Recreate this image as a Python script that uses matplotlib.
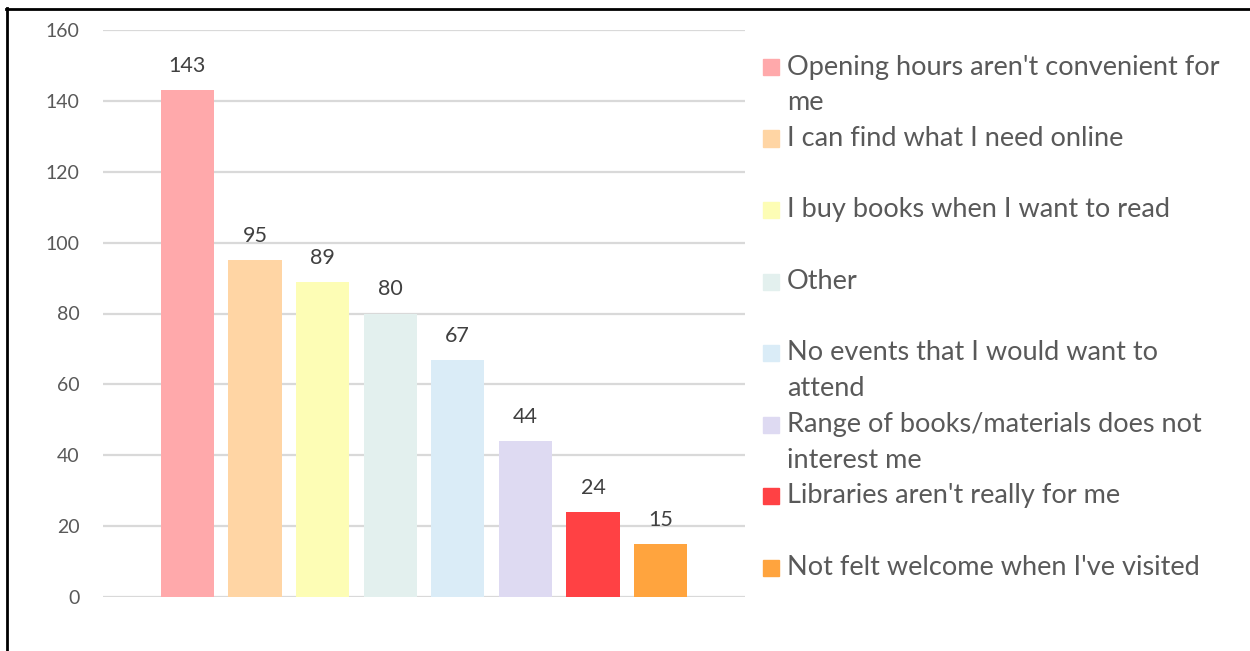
import textwrap
import matplotlib
matplotlib.use('Agg')
import matplotlib.pyplot as plt
from matplotlib.patches import Rectangle
from matplotlib.lines import Line2D

# reasons people gave for not using the library
reasons = ["Opening hours aren't convenient for me",
           "I can find what I need online",
           "I buy books when I want to read",
           "Other",
           "No events that I would want to attend",
           "Range of books/materials does not interest me",
           "Libraries aren't really for me",
           "Not felt welcome when I've visited"]
counts = [143, 95, 89, 80, 67, 44, 24, 15]
colors = ['#FFA9AB', '#FFD5A4', '#FDFDB5', '#E3F0EE',
          '#DAECF7', '#DEDAF2', '#FF4144', '#FFA43E']
yticks = [0, 20, 40, 60, 80, 100, 120, 140, 160]

plt.rcParams['font.family'] = ['Lato', 'DejaVu Sans']

fig = plt.figure(figsize=(12.5, 6.51), dpi=100)
ax = fig.add_axes([103/1250, 54/651, 642/1250, 567/651])

x = list(range(len(counts)))
ax.bar(x, counts, width=0.79, color=colors, zorder=2)

for xi, c in zip(x, counts):
    ax.annotate(str(c), (xi, c), xytext=(0, 13), textcoords='offset points',
                ha='center', va='baseline', fontsize=15.5, color='#404040')

ax.set_xlim(-1.25, 8.25)
ax.set_ylim(0, 160)
ax.set_yticks(yticks)
ax.set_xticks([])
ax.grid(axis='y', color='#D9D9D9', linewidth=1.6, zorder=0)
ax.tick_params(axis='y', length=0, pad=17, labelsize=14, labelcolor='#595959')
for s in ax.spines.values():
    s.set_visible(False)

# legend drawn by hand so the two-line slots match the original
slot = 71.5
top = 49
for i, (lab, col) in enumerate(zip(reasons, colors)):
    y0 = top + i * slot
    fig.add_artist(Rectangle((763/1250, 1 - (y0 + 26)/651), 16/1250, 16/651,
                             color=col, transform=fig.transFigure))
    for j, line in enumerate(textwrap.wrap(lab, 35)):
        fig.text(787/1250, 1 - (y0 + 18 + j*35.5)/651, line, fontsize=19.5,
                 color='#595959', va='center', ha='left')

# black frame on left and top edges
fig.add_artist(Line2D([6.5/1250, 6.5/1250], [0, 1 - 8/651], color='black', linewidth=2))
fig.add_artist(Line2D([6/1250, 1], [1 - 8.5/651, 1 - 8.5/651], color='black', linewidth=2))

fig.savefig('out.png', dpi=100, facecolor='white')
